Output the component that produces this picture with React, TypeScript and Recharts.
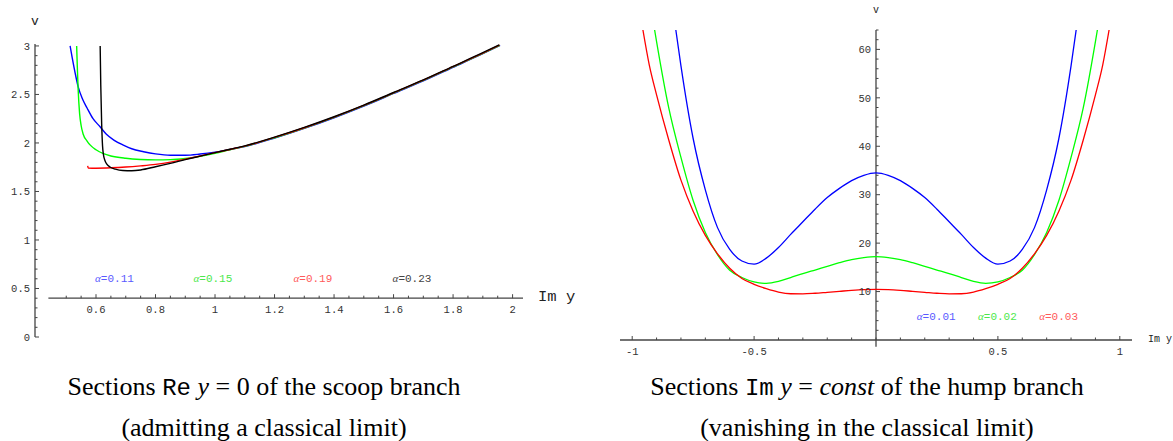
// Two sections of the potential v: scoop branch (left) and hump branch (right)
import { Line, LineChart, ReferenceDot, ReferenceLine, XAxis, YAxis } from "recharts";

type Pt = [number, number]; // [Im y (or Re y), v]

// ---------- left chart: Re y = 0, scoop branch ----------
const scoopA011: Pt[] = [
  [0.513, 3.0], [0.52, 2.88], [0.53, 2.72], [0.54, 2.58], [0.555, 2.45], [0.57, 2.36],
  [0.59, 2.25], [0.613, 2.17], [0.635, 2.09], [0.66, 2.03], [0.69, 1.98], [0.72, 1.94],
  [0.76, 1.91], [0.8, 1.888], [0.85, 1.874], [0.9, 1.874], [0.95, 1.886], [1.0, 1.905],
  [1.05, 1.932], [1.1, 1.963], [1.2, 2.05], [1.3, 2.15], [1.4, 2.26], [1.5, 2.38],
  [1.6, 2.51], [1.7, 2.64], [1.8, 2.78], [1.9, 2.92], [1.958, 3.005],
];
const scoopA015: Pt[] = [
  [0.535, 3.0], [0.537, 2.8], [0.54, 2.55], [0.545, 2.3], [0.55, 2.18], [0.557, 2.09],
  [0.57, 2.02], [0.58, 1.98], [0.6, 1.93], [0.625, 1.89], [0.65, 1.866], [0.7, 1.842],
  [0.75, 1.83], [0.8, 1.826], [0.85, 1.828], [0.9, 1.84], [0.95, 1.862], [1.0, 1.893],
  [1.05, 1.93], [1.1, 1.965], [1.2, 2.054], [1.3, 2.154], [1.4, 2.264], [1.5, 2.384],
  [1.6, 2.514], [1.7, 2.644], [1.8, 2.784], [1.9, 2.924], [1.957, 3.007],
];
const scoopA019: Pt[] = [
  [0.572, 1.765], [0.574, 1.742], [0.6, 1.74], [0.65, 1.744], [0.7, 1.752], [0.75, 1.764],
  [0.8, 1.779], [0.85, 1.802], [0.9, 1.834], [0.95, 1.866], [1.0, 1.9], [1.05, 1.933],
  [1.1, 1.967], [1.2, 2.057], [1.3, 2.157], [1.4, 2.267], [1.5, 2.387], [1.6, 2.517],
  [1.7, 2.647], [1.8, 2.787], [1.9, 2.927], [1.956, 3.008],
];
const scoopA023: Pt[] = [
  [0.614, 3.0], [0.616, 2.6], [0.619, 2.2], [0.622, 1.97], [0.625, 1.88], [0.63, 1.82],
  [0.637, 1.78], [0.647, 1.752], [0.665, 1.73], [0.69, 1.716], [0.72, 1.714], [0.75, 1.722],
  [0.8, 1.755], [0.85, 1.79], [0.9, 1.828], [0.95, 1.864], [1.0, 1.9], [1.05, 1.935],
  [1.1, 1.97], [1.2, 2.06], [1.3, 2.16], [1.4, 2.27], [1.5, 2.39], [1.6, 2.52],
  [1.7, 2.65], [1.8, 2.79], [1.9, 2.93], [1.955, 3.01],
];
const scoopXMajor = [0.6, 0.8, 1, 1.2, 1.4, 1.6, 1.8, 2];
const scoopYMajor = [0, 0.5, 1, 1.5, 2, 2.5, 3];
const scoopLabels = [
  { text: "0.11", x: 0.662, v: 0.605, color: "#5a5aff" },
  { text: "0.15", x: 0.993, v: 0.605, color: "#4ce84c" },
  { text: "0.19", x: 1.329, v: 0.605, color: "#ff5a5a" },
  { text: "0.23", x: 1.662, v: 0.605, color: "#444" },
];

// ---------- right chart: Im y = const, hump branch ----------
const humpA001: Pt[] = [
  [-0.821, 64], [-0.8, 56.6], [-0.75, 41.6], [-0.7, 31.0], [-0.65, 23.2], [-0.6, 18.7],
  [-0.55, 16.3], [-0.5, 15.65], [-0.45, 16.9], [-0.4, 19.1], [-0.35, 21.8], [-0.3, 24.4],
  [-0.25, 27.0], [-0.2, 29.4], [-0.15, 31.3], [-0.1, 32.9], [-0.05, 34.0], [0, 34.5],
  [0.05, 34.0], [0.1, 32.9], [0.15, 31.3], [0.2, 29.4], [0.25, 27.0], [0.3, 24.4],
  [0.35, 21.8], [0.4, 19.1], [0.45, 16.9], [0.5, 15.65], [0.55, 16.3], [0.6, 18.7],
  [0.65, 23.2], [0.7, 31.0], [0.75, 41.6], [0.8, 56.6], [0.821, 64],
];
const humpA002: Pt[] = [
  [-0.908, 64], [-0.9, 61.6], [-0.85, 47.9], [-0.8, 37.7], [-0.75, 28.8], [-0.7, 22.2],
  [-0.65, 17.6], [-0.6, 14.4], [-0.55, 12.9], [-0.5, 12.0], [-0.45, 11.7], [-0.4, 12.1],
  [-0.35, 12.9], [-0.3, 13.7], [-0.25, 14.45], [-0.2, 15.2], [-0.15, 15.95], [-0.1, 16.6],
  [-0.05, 17.0], [0, 17.2], [0.05, 17.0], [0.1, 16.6], [0.15, 15.95], [0.2, 15.2],
  [0.25, 14.45], [0.3, 13.7], [0.35, 12.9], [0.4, 12.1], [0.45, 11.7], [0.5, 12.0],
  [0.55, 12.9], [0.6, 14.4], [0.65, 17.6], [0.7, 22.2], [0.75, 28.8], [0.8, 37.7],
  [0.85, 47.9], [0.9, 61.6], [0.908, 64],
];
const humpA003: Pt[] = [
  [-0.956, 64], [-0.93, 56.8], [-0.9, 50.6], [-0.85, 41.3], [-0.8, 33.0], [-0.75, 26.6],
  [-0.7, 21.6], [-0.65, 17.8], [-0.6, 14.8], [-0.55, 12.7], [-0.5, 11.5], [-0.45, 10.6],
  [-0.4, 9.9], [-0.35, 9.55], [-0.3, 9.52], [-0.25, 9.65], [-0.2, 9.85], [-0.15, 10.05],
  [-0.1, 10.25], [-0.05, 10.4], [0, 10.45], [0.05, 10.4], [0.1, 10.25], [0.15, 10.05],
  [0.2, 9.85], [0.25, 9.65], [0.3, 9.52], [0.35, 9.55], [0.4, 9.9], [0.45, 10.6],
  [0.5, 11.5], [0.55, 12.7], [0.6, 14.8], [0.65, 17.8], [0.7, 21.6], [0.75, 26.6],
  [0.8, 33.0], [0.85, 41.3], [0.9, 50.6], [0.93, 56.8], [0.956, 64],
];
const humpXMajor = [-1, -0.5, 0.5, 1];
const humpYMajor = [10, 20, 30, 40, 50, 60];
const humpLabels = [
  { text: "0.01", x: 0.247, v: 4.95, color: "#5a5aff" },
  { text: "0.02", x: 0.498, v: 4.95, color: "#4ce84c" },
  { text: "0.03", x: 0.749, v: 4.95, color: "#ff5a5a" },
];

const AXIS = "#444";
const MONO = '"Liberation Mono", "DejaVu Sans Mono", monospace';
const SERIF = '"Liberation Serif", "DejaVu Serif", serif';

// layout of the two plot areas (axis sizes take the place of the margins)
const SC = { w: 580, h: 350, top: 44, xAxisH: 13, yAxisW: 35, right: 57, x0: 0.395, x1: 2.035, y0: 0, y1: 3.02, axisAt: 0.4 };
const HU = { w: 583, h: 360, top: 30, xAxisH: 20, yAxisW: 30, right: 41, x0: -1.05, x1: 1.05, y0: 0, y1: 64 };

const range = (a: number, b: number, s: number) => {
  const out: number[] = [];
  for (let i = 0; a + i * s <= b + 1e-9; i++) out.push(Number((a + i * s).toFixed(4)));
  return out;
};
const isMajor = (v: number, majors: number[]) => majors.some((m) => Math.abs(m - v) < 1e-6);
const fmt = (v: number) => String(Number(v.toFixed(3)));
const toRows = (pts: Pt[]) => pts.map(([x, v]) => ({ x, v }));

// horizontal axis tick: mark points up, label below; "lift" moves it off the plot bottom
function makeXTick(majors: number[], lift: number) {
  return (p: any) => {
    const v = p.payload.value;
    const major = isMajor(v, majors);
    const y0 = p.y - lift;
    return (
      <g>
        <line x1={p.x} x2={p.x} y1={y0} y2={y0 - (major ? 4 : 2.5)} stroke={AXIS} strokeWidth={1} />
        {major ? (
          <text x={p.x} y={y0 + 14.5} textAnchor="middle" fontFamily={MONO} fontSize={10.5} fill="#333">
            {fmt(v)}
          </text>
        ) : null}
      </g>
    );
  };
}

// vertical axis tick: mark points right, label to the left; "shift" moves it right of the plot left
function makeYTick(majors: number[], shift: number) {
  return (p: any) => {
    const v = p.payload.value;
    const major = isMajor(v, majors);
    const x0 = p.x + shift;
    return (
      <g>
        <line x1={x0} x2={x0 + (major ? 4 : 2.5)} y1={p.y} y2={p.y} stroke={AXIS} strokeWidth={1} />
        {major ? (
          <text x={x0 - 5} y={p.y + 3.8} textAnchor="end" fontFamily={MONO} fontSize={10.5} fill="#333">
            {fmt(v)}
          </text>
        ) : null}
      </g>
    );
  };
}

function AlphaLabel(props: any) {
  const { viewBox, text, color } = props;
  const cx = viewBox.x + (viewBox.width || 0) / 2;
  const cy = viewBox.y + (viewBox.height || 0) / 2;
  return (
    <text x={cx} y={cy + 3.8} textAnchor="middle" fontFamily={MONO} fontSize={11} fill={color}>
      <tspan fontFamily={SERIF} fontStyle="italic">α</tspan>={text}
    </text>
  );
}

function ScoopChart() {
  const plotH = SC.h - SC.top - SC.xAxisH;
  const lift = ((SC.axisAt - SC.y0) / (SC.y1 - SC.y0)) * plotH;
  const series: [Pt[], string][] = [
    [scoopA011, "#0000ff"],
    [scoopA015, "#00ff00"],
    [scoopA019, "#ff0000"],
    [scoopA023, "#000000"],
  ];
  return (
    <LineChart width={SC.w} height={SC.h} margin={{ top: SC.top, right: SC.right, bottom: 0, left: 0 }}>
      <XAxis
        type="number"
        dataKey="x"
        domain={[SC.x0, SC.x1]}
        allowDataOverflow
        ticks={range(0.5, 2, 0.05)}
        interval={0}
        height={SC.xAxisH}
        axisLine={false}
        tickLine={false}
        tickSize={0}
        tickMargin={0}
        tick={makeXTick(scoopXMajor, lift)}
      />
      <YAxis
        type="number"
        domain={[SC.y0, SC.y1]}
        allowDataOverflow
        ticks={range(0, 3, 0.1)}
        interval={0}
        width={SC.yAxisW}
        axisLine={{ stroke: AXIS, strokeWidth: 1.3 }}
        tickLine={false}
        tickSize={0}
        tickMargin={0}
        tick={makeYTick(scoopYMajor, 0)}
      />
      <ReferenceLine segment={[{ x: 0.44, y: SC.axisAt }, { x: SC.x1, y: SC.axisAt }]} stroke={AXIS} strokeWidth={1.3} />
      {series.map(([pts, color], i) => (
        <Line
          key={i}
          data={toRows(pts)}
          dataKey="v"
          type="monotone"
          stroke={color}
          strokeWidth={1.4}
          dot={false}
          isAnimationActive={false}
        />
      ))}
      {scoopLabels.map((l) => (
        <ReferenceDot key={l.text} x={l.x} y={l.v} r={0} stroke="none" fill="none" label={<AlphaLabel text={l.text} color={l.color} />} />
      ))}
    </LineChart>
  );
}

function HumpChart() {
  const plotW = HU.w - HU.yAxisW - HU.right;
  const shift = ((0 - HU.x0) / (HU.x1 - HU.x0)) * plotW;
  const series: [Pt[], string][] = [
    [humpA001, "#0000ff"],
    [humpA002, "#00ff00"],
    [humpA003, "#ff0000"],
  ];
  return (
    <LineChart width={HU.w} height={HU.h} margin={{ top: HU.top, right: HU.right, bottom: 0, left: 0 }}>
      <XAxis
        type="number"
        dataKey="x"
        domain={[HU.x0, HU.x1]}
        allowDataOverflow
        ticks={range(-1, 1, 0.1)}
        interval={0}
        height={HU.xAxisH}
        axisLine={{ stroke: AXIS, strokeWidth: 1.3 }}
        tickLine={false}
        tickSize={0}
        tickMargin={0}
        tick={makeXTick(humpXMajor, 0)}
      />
      <YAxis
        type="number"
        domain={[HU.y0, HU.y1]}
        allowDataOverflow
        ticks={range(2, 64, 2)}
        interval={0}
        width={HU.yAxisW}
        axisLine={false}
        tickLine={false}
        tickSize={0}
        tickMargin={0}
        tick={makeYTick(humpYMajor, shift)}
      />
      <ReferenceLine segment={[{ x: 0, y: -1.4 }, { x: 0, y: HU.y1 }]} ifOverflow="visible" stroke={AXIS} strokeWidth={1.3} />
      {series.map(([pts, color], i) => (
        <Line
          key={i}
          data={toRows(pts)}
          dataKey="v"
          type="monotone"
          stroke={color}
          strokeWidth={1.3}
          dot={false}
          isAnimationActive={false}
        />
      ))}
      {humpLabels.map((l) => (
        <ReferenceDot key={l.text} x={l.x} y={l.v} r={0} stroke="none" fill="none" label={<AlphaLabel text={l.text} color={l.color} />} />
      ))}
    </LineChart>
  );
}

const abs = (left: number, top: number): React.CSSProperties => ({ position: "absolute", left, top });

export default function App() {
  const tt: React.CSSProperties = { fontFamily: MONO, fontSize: 24 };
  const cap: React.CSSProperties = { width: 640, textAlign: "center", fontFamily: SERIF, fontSize: 26, lineHeight: "39px", color: "#000", whiteSpace: "nowrap" };
  return (
    <div style={{ position: "absolute", left: 0, top: 0, width: 1173, height: 441, background: "#fff", overflow: "hidden" }}>
      <div style={abs(0, 0)}>
        <ScoopChart />
      </div>
      <div style={abs(590, 0)}>
        <HumpChart />
      </div>

      {/* axis titles */}
      <div style={{ ...abs(31, 14), fontFamily: MONO, fontSize: 13, color: "#222", lineHeight: "16px" }}>v</div>
      <div style={{ ...abs(538, 288), fontFamily: MONO, fontSize: 15.5, color: "#222", lineHeight: "18px" }}>Im y</div>
      <div style={{ ...abs(873, 4), fontFamily: MONO, fontSize: 10, color: "#222", lineHeight: "14px" }}>v</div>
      <div style={{ ...abs(1148, 333), fontFamily: MONO, fontSize: 10, color: "#222", lineHeight: "14px", whiteSpace: "nowrap" }}>Im y</div>

      {/* captions */}
      <div style={{ ...abs(264 - 320, 367), ...cap }}>
        Sections <span style={tt}>Re</span> <i>y</i> = 0 of the scoop branch
        <br />
        (admitting a classical limit)
      </div>
      <div style={{ ...abs(867 - 320, 367), ...cap }}>
        Sections <span style={tt}>Im</span> <i>y</i> = <i>const</i> of the hump branch
        <br />
        (vanishing in the classical limit)
      </div>
    </div>
  );
}
